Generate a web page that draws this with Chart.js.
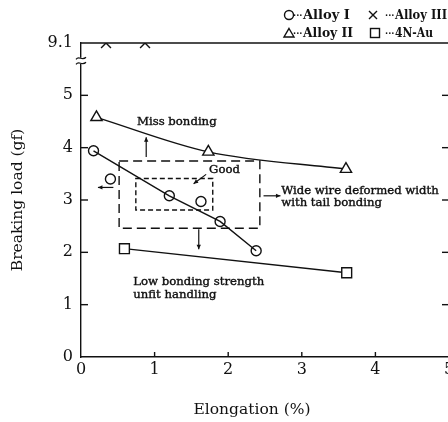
<!DOCTYPE html>
<html><head><meta charset="utf-8">
<script src="https://cdn.jsdelivr.net/npm/chart.js@4.4.1/dist/chart.umd.min.js"></script>
<style>html,body{margin:0;padding:0;background:#fff;overflow:hidden}#wrap{width:448px;height:422px;overflow:hidden}</style>
</head><body><div id="wrap"><canvas id="c" width="470" height="422"></canvas></div>
<script>
// ---- data ----
const alloyIX = [0.17, 0.40, 1.20, 1.63, 1.89, 2.38];
const alloyIY = [3.94, 3.40, 3.08, 2.97, 2.59, 2.03];
const alloyITrendIdx = [0, 2, 4, 5];
const alloyIIX = [0.21, 1.73, 3.60];
const alloyIIY = [4.58, 3.92, 3.59];
const alloyIIIX = [0.34, 0.87];
const alloyIIIY = [9.1, 9.1];
const auX = [0.59, 3.61];
const auY = [2.07, 1.61];
const yTickLabels = ['0', '1', '2', '3', '4', '5', '9.1'];
const xTickLabels = ['0', '1', '2', '3', '4', '5'];
const legendLabels = ['Alloy I', 'Alloy III', 'Alloy II', '4N-Au'];

// broken y axis: 0..5 linear, then break, top line = 9.1
const Y_BREAK = 5, Y_TOP = 9.1;
function yPos(v) { return v <= Y_BREAK ? v : Y_BREAK + (v - Y_BREAK) / (Y_TOP - Y_BREAK); }
function pts(xs, ys, idx) {
  const ii = idx || xs.map((_, i) => i);
  return ii.map(i => ({x: xs[i], y: yPos(ys[i])}));
}

// ---- annotation layout (data units) ----
const notes = {
  bigBox: {x0: 0.518, x1: 2.43, y0: 2.46, y1: 3.745},
  smallBox: {x0: 0.745, x1: 1.79, y0: 2.81, y1: 3.41},
  arrows: [
    [0.886, 3.82, 0.886, 4.20],
    [1.60, 2.44, 1.60, 2.06],
    [0.44, 3.24, 0.23, 3.24],
    [2.48, 3.08, 2.71, 3.08],
    [1.70, 3.49, 1.53, 3.31]
  ],
  texts: [
    ['Miss bonding', 0.76, 4.50],
    ['Good', 1.74, 3.57],
    ['Wide wire deformed width', 2.72, 3.17],
    ['with tail bonding', 2.72, 2.94],
    ['Low bonding strength', 0.71, 1.44],
    ['unfit handling', 0.71, 1.18]
  ]
};

const INK = '#111';
const SERIF = '"DejaVu Serif", serif';

function arrow(ctx, x0, y0, x1, y1) {
  ctx.beginPath(); ctx.moveTo(x0, y0); ctx.lineTo(x1, y1); ctx.stroke();
  const a = Math.atan2(y1 - y0, x1 - x0), L = 5, w = 0.45;
  ctx.beginPath();
  ctx.moveTo(x1, y1);
  ctx.lineTo(x1 - L * Math.cos(a - w), y1 - L * Math.sin(a - w));
  ctx.lineTo(x1 - L * Math.cos(a + w), y1 - L * Math.sin(a + w));
  ctx.closePath(); ctx.fill();
}
function boldText(ctx, s, x, y, w) {
  ctx.fillText(s, x, y);
  ctx.lineWidth = w; ctx.strokeText(s, x, y);
}

const decor = {
  id: 'decor',
  beforeDatasetsDraw(chart) {
    const {ctx, scales: {x, y}} = chart;
    const X = v => x.getPixelForValue(v), Y = v => y.getPixelForValue(v);
    ctx.save();
    ctx.strokeStyle = INK; ctx.fillStyle = INK; ctx.lineWidth = 1.4;
    let b = notes.bigBox;
    ctx.setLineDash([9, 5]);
    ctx.strokeRect(X(b.x0), Y(b.y1), X(b.x1) - X(b.x0), Y(b.y0) - Y(b.y1));
    b = notes.smallBox;
    ctx.setLineDash([5, 3]);
    ctx.strokeRect(X(b.x0), Y(b.y1), X(b.x1) - X(b.x0), Y(b.y0) - Y(b.y1));
    ctx.setLineDash([]);
    ctx.lineWidth = 1.2;
    notes.arrows.forEach(a => arrow(ctx, X(a[0]), Y(a[1]), X(a[2]), Y(a[3])));
    ctx.font = '11.7px ' + SERIF;
    ctx.textBaseline = 'middle'; ctx.textAlign = 'left';
    notes.texts.forEach(t => boldText(ctx, t[0], X(t[1]), Y(t[2]), 0.4));
    ctx.lineWidth = 1.4;
    ctx.beginPath(); ctx.moveTo(x.left, Y(yPos(Y_TOP))); ctx.lineTo(x.right, Y(yPos(Y_TOP))); ctx.stroke();
    for (let v = 1; v <= 5; v++) {
      ctx.beginPath(); ctx.moveTo(x.left, Y(v)); ctx.lineTo(x.left + 7, Y(v)); ctx.stroke();
      ctx.beginPath(); ctx.moveTo(x.right, Y(v)); ctx.lineTo(x.right - 7, Y(v)); ctx.stroke();
    }
    for (let v = 1; v <= 4; v++) {
      ctx.beginPath(); ctx.moveTo(X(v), y.bottom); ctx.lineTo(X(v), y.bottom - 5); ctx.stroke();
    }
    ctx.restore();
  },
  afterDraw(chart) {
    const {ctx, scales: {x, y}} = chart;
    ctx.save();
    const by = y.getPixelForValue(5.66), lx = x.left;
    ctx.fillStyle = '#fff';
    ctx.fillRect(lx - 2, by - 3, 4, 6);
    ctx.strokeStyle = INK; ctx.lineWidth = 1.2;
    [-2.5, 2.5].forEach(d => {
      ctx.beginPath();
      ctx.moveTo(lx - 5, by + d + 1);
      ctx.bezierCurveTo(lx - 2, by + d - 3, lx + 1, by + d + 3, lx + 5, by + d - 1);
      ctx.stroke();
    });
    ctx.fillStyle = INK;
    ctx.font = '15.5px ' + SERIF;
    ctx.textAlign = 'center'; ctx.textBaseline = 'middle';
    ctx.fillText('Elongation (%)', 252, 410);
    ctx.lineWidth = 1.4; ctx.strokeStyle = INK;
    ctx.beginPath(); ctx.arc(289, 15, 4.5, 0, Math.PI * 2); ctx.stroke();
    ctx.beginPath(); ctx.moveTo(369, 11); ctx.lineTo(377, 19); ctx.moveTo(377, 11); ctx.lineTo(369, 19); ctx.stroke();
    ctx.beginPath(); ctx.moveTo(289, 28.5); ctx.lineTo(294, 37); ctx.lineTo(284, 37); ctx.closePath(); ctx.stroke();
    ctx.strokeRect(370.5, 28.5, 9, 9);
    const rows = [[303, 15, legendLabels[0], 49], [395, 15, legendLabels[1], 52], [303, 33, legendLabels[2], 50], [395, 33, legendLabels[3], 38]];
    ctx.textAlign = 'left';
    rows.forEach(r => {
      ctx.font = 'bold 9px ' + SERIF;
      ctx.fillText('\u00B7\u00B7\u00B7', r[0] - 10, r[1] + 1);
      ctx.font = 'bold 13px ' + SERIF;
      ctx.fillText(r[2], r[0], r[1] + 1, r[3]);
    });
    ctx.restore();
  }
};

const common = {borderColor: INK, backgroundColor: '#fff', pointBorderColor: INK, pointBackgroundColor: '#fff', pointBorderWidth: 1.4, borderWidth: 1.4};

new Chart(document.getElementById('c'), {
  type: 'scatter',
  data: {
    datasets: [
      Object.assign({}, common, {label: 'Alloy I trend', data: pts(alloyIX, alloyIY, alloyITrendIdx), showLine: true, pointRadius: 0}),
      Object.assign({}, common, {label: legendLabels[0], data: pts(alloyIX, alloyIY), showLine: false, pointStyle: 'circle', pointRadius: 5}),
      Object.assign({}, common, {label: legendLabels[2], data: pts(alloyIIX, alloyIIY), showLine: true, cubicInterpolationMode: 'monotone', pointStyle: 'triangle', pointRadius: 6.5}),
      Object.assign({}, common, {label: legendLabels[1], data: pts(alloyIIIX, alloyIIIY), showLine: false, pointStyle: 'crossRot', pointRadius: 7}),
      Object.assign({}, common, {label: legendLabels[3], data: pts(auX, auY), showLine: true, pointStyle: 'rect', pointRadius: 7})
    ]
  },
  options: {
    responsive: false, animation: false,
    layout: {padding: {top: 43, right: 21, bottom: 0, left: 0}},
    plugins: {legend: {display: false}, tooltip: {enabled: false}},
    scales: {
      x: {
        type: 'linear', min: 0, max: 5,
        ticks: {stepSize: 1, color: INK, font: {family: SERIF, size: 16}, padding: 3,
          callback: v => xTickLabels[v] !== undefined ? xTickLabels[v] : ''},
        grid: {display: false, drawTicks: false},
        border: {color: INK, width: 1.4},
        afterFit(s) { s.height = 65; s.paddingLeft = 0; s.paddingRight = 0; }
      },
      y: {
        type: 'linear', min: 0, max: 6,
        ticks: {stepSize: 1, color: INK, font: {family: SERIF, size: 16}, padding: 8,
          callback: v => yTickLabels[v] !== undefined ? yTickLabels[v] : ''},
        grid: {display: false, drawTicks: false},
        border: {color: INK, width: 1.4},
        title: {display: true, text: 'Breaking load (gf)', color: INK, font: {family: SERIF, size: 15.5}, padding: {top: 9, bottom: 0}},
        afterFit(s) { s.width = 81; }
      }
    }
  },
  plugins: [decor]
});
</script>
</body></html>
